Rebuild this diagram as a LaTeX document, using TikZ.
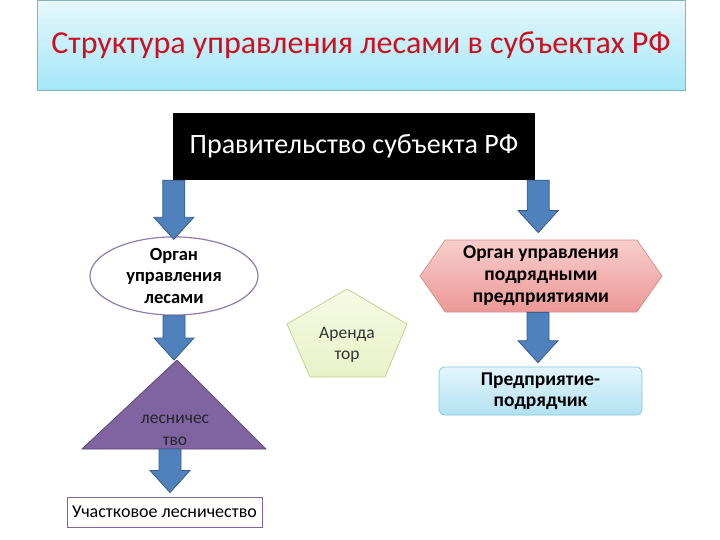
\documentclass[tikz,border=0pt]{standalone}
\usepackage{fontspec}
\setmainfont{Carlito}
\usetikzlibrary{shapes.geometric, shapes.symbols, calc}
\definecolor{titlered}{RGB}{204,16,32}
\definecolor{titletop}{RGB}{230,248,252}
\definecolor{titlebot}{RGB}{164,231,247}
\definecolor{titleedge}{RGB}{130,180,192}
\definecolor{arrowblue}{RGB}{79,129,189}
\definecolor{arrowedge}{RGB}{56,93,138}
\definecolor{lilac}{RGB}{128,100,162}
\definecolor{lilacedge}{RGB}{84,66,112}
\definecolor{pinktop}{RGB}{248,206,204}
\definecolor{pinkbot}{RGB}{236,152,150}
\definecolor{pinkedge}{RGB}{212,138,136}
\definecolor{cyantop}{RGB}{228,245,251}
\definecolor{cyanbot}{RGB}{178,226,242}
\definecolor{cyanedge}{RGB}{128,198,220}
\definecolor{limetop}{RGB}{246,250,228}
\definecolor{limebot}{RGB}{232,242,200}
\definecolor{limeedge}{RGB}{190,208,140}
\tikzset{
  titlebox/.style={rectangle, draw=titleedge, top color=titletop, bottom color=titlebot,
    minimum width=648pt, minimum height=90pt, text=titlered,
    font=\fontsize{32}{38}\selectfont, line width=0.7pt},
  govbox/.style={rectangle, fill=black, text=white, minimum width=362pt,
    minimum height=67pt, font=\fontsize{28}{33}\selectfont},
  organbox/.style={ellipse, draw=lilac!85, fill=white, minimum width=168pt,
    minimum height=72pt, inner sep=0pt, align=center, line width=1.2pt,
    font=\bfseries\fontsize{18.5}{21.5}\selectfont},
  hexbox/.style={signal, signal to=east and west, signal pointer angle=110,
    draw=pinkedge, top color=pinktop, bottom color=pinkbot,
    minimum width=242pt, minimum height=72pt, inner sep=0pt, align=center,
    font=\bfseries\fontsize{19.5}{22}\selectfont, line width=0.7pt},
  firmbox/.style={rectangle, rounded corners=6pt, draw=cyanedge,
    top color=cyantop, bottom color=cyanbot, minimum width=203pt,
    minimum height=48pt, inner sep=0pt, align=center,
    font=\bfseries\fontsize{19.5}{21}\selectfont, line width=0.7pt},
  pentbox/.style={draw=limeedge, top color=limetop, bottom color=limebot, line width=0.7pt},
  pentlabel/.style={align=center, text=black!80, font=\fontsize{17.5}{21}\selectfont},
  tribox/.style={draw=lilacedge, fill=lilac, line width=0.7pt},
  trilabel/.style={align=center, text=black!85, font=\fontsize{17.5}{22}\selectfont},
  uchbox/.style={rectangle, draw=lilac, fill=white, minimum width=195pt,
    minimum height=30pt, inner sep=0pt, line width=1pt,
    font=\fontsize{18}{20}\selectfont},
  blockarr/.style={draw=arrowedge, fill=arrowblue, line width=0.8pt, line join=miter}
}
% vertical block arrow: shaft starts at #1, tip at the height of #2
\newcommand{\blockarrow}[2]{%
  \path[blockarr] let \p1=(#1), \p2=(#2) in
    ({\x1-11pt},{\y1}) -- ({\x1+11pt},{\y1}) -- ({\x1+11pt},{\y2+22pt})
    -- ({\x1+20pt},{\y2+22pt}) -- ({\x1},{\y2}) -- ({\x1-20pt},{\y2+22pt})
    -- ({\x1-11pt},{\y2+22pt}) -- cycle;}
\begin{document}
\begin{tikzpicture}[x=1pt, y=-1pt]
  \useasboundingbox[fill=white] (0,0) rectangle (720,540);

  \node[titlebox] (title) at (361,45) {Структура управления лесами в субъектах РФ};
  \node[govbox] (gov) at (354,146.5) {Правительство субъекта РФ};

  % left branch
  \node[organbox] (organ) at (174,276) {Орган\\управления\\лесами};
  \draw[tribox] (177,360) coordinate (tritop) -- (266,449) -- (82,449) -- cycle;
  \coordinate (tribase) at (170,449);
  \node[trilabel] (lesn) at (175,430) {лесничес\\тво};
  \node[uchbox] (uch) at (164.5,512) {Участковое лесничество};

  % middle
  \draw[pentbox] (287,324) -- (347,289) -- (407,324) -- (385,377) -- (310,377) -- cycle;
  \node[pentlabel] (arend) at (347,345) {Аренда\\тор};

  % right branch
  \node[hexbox] (podr) at (541,276) {Орган управления\\подрядными\\предприятиями};
  \node[firmbox] (firm) at (540.5,391) {Предприятие-\\подрядчик};

  % arrows
  \blockarrow{$(gov.south west)+(1,0)$}{$(organ.north)+(0,3)$}
  \blockarrow{$(gov.south east)+(3,0)$}{$(podr.north)+(0,-7)$}
  \blockarrow{organ.south}{tritop}
  \blockarrow{tribase}{$(uch.north)+(0,-4)$}
  \blockarrow{$(podr.south)+(-3,0)$}{$(firm.north)+(0,-4)$}
\end{tikzpicture}
\end{document}
